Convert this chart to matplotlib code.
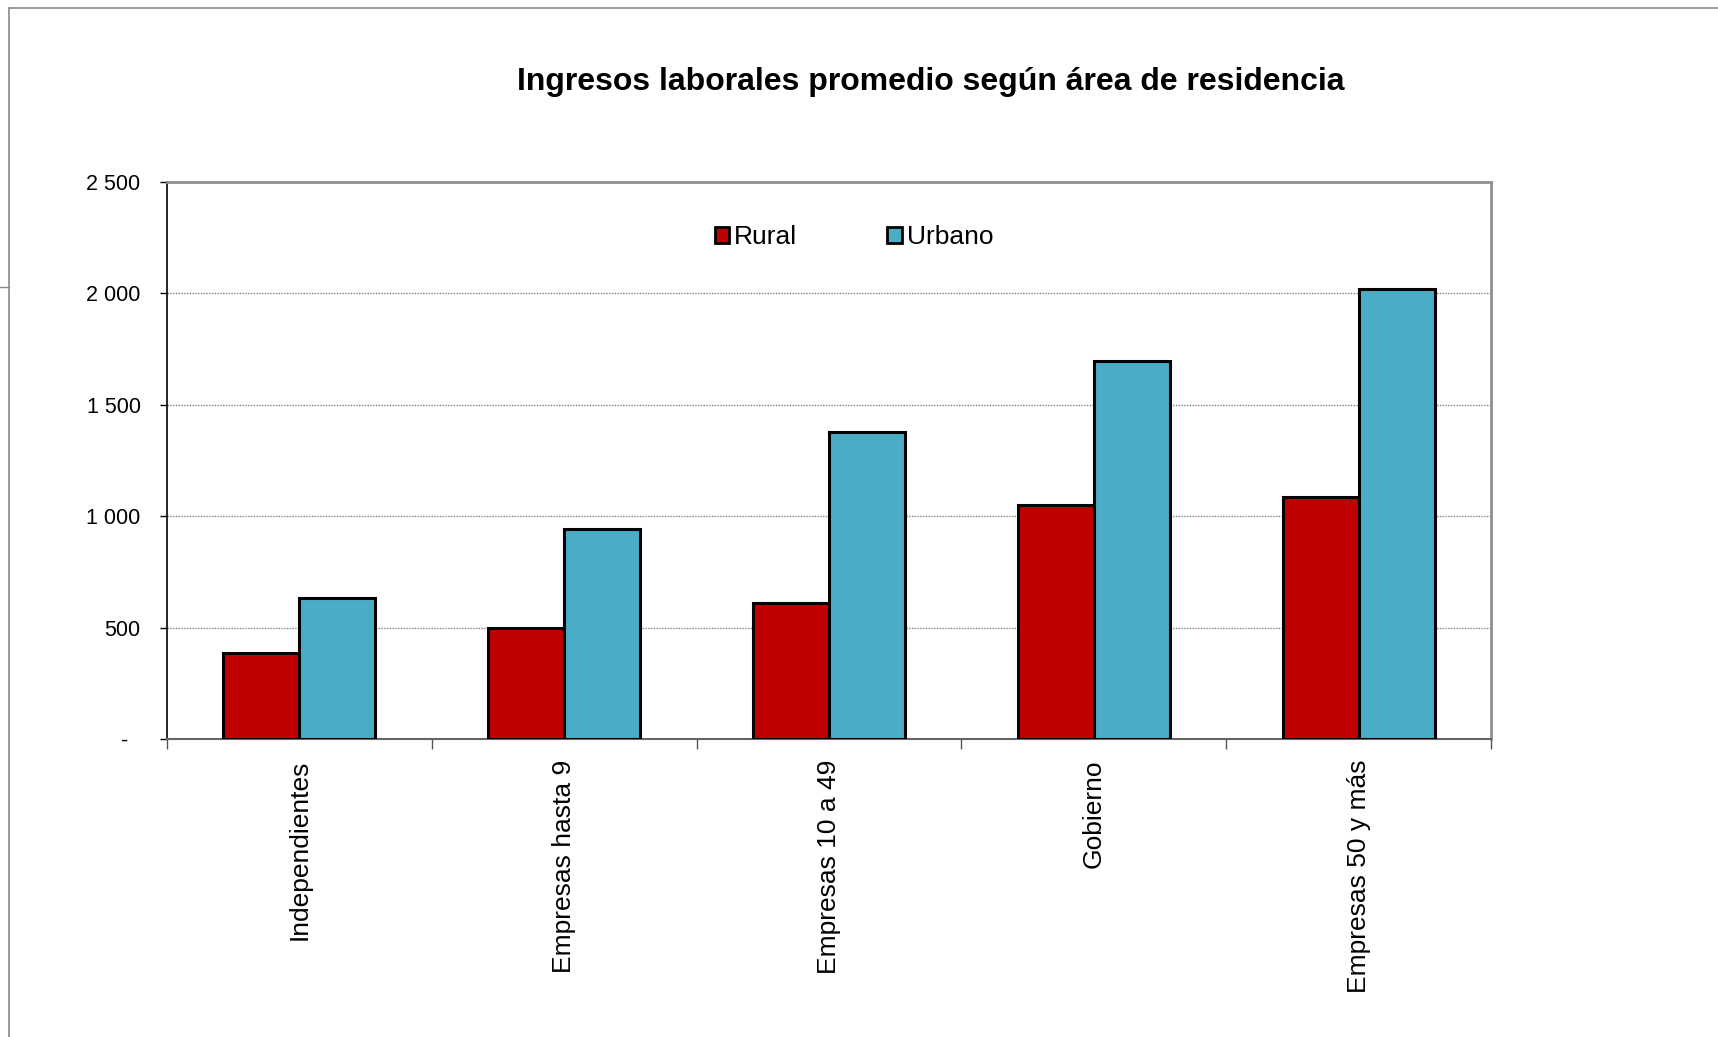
import matplotlib
matplotlib.use("Agg")
import matplotlib.pyplot as plt
from matplotlib.patches import Patch
from matplotlib.lines import Line2D
import numpy as np

plt.rcParams['font.family'] = ['Liberation Sans', 'DejaVu Sans']

categories = ["Independientes", "Empresas hasta 9", "Empresas 10 a 49", "Gobierno", "Empresas 50 y más"]
rural = [386, 498, 609, 1049, 1085]
urbano = [631, 944, 1378, 1695, 2018]
series_names = ["Rural", "Urbano"]
yticks = [0, 500, 1000, 1500, 2000, 2500]
ytick_labels = ["-  ", "500", "1 000", "1 500", "2 000", "2 500"]
title = "Ingresos laborales promedio según área de residencia"

c_rural = "#C00000"
c_urb = "#4BACC6"

W, H = 1718, 1037
fig = plt.figure(figsize=(W / 100, H / 100), dpi=100)
ax = fig.add_axes([167 / W, 1 - 739 / H, (1491 - 167) / W, (739 - 182) / H])

x = np.arange(len(categories))
bw = 0.287
ax.bar(x - bw / 2, rural, bw, color=c_rural, edgecolor="black", linewidth=2.2, zorder=3, label=series_names[0])
ax.bar(x + bw / 2, urbano, bw, color=c_urb, edgecolor="black", linewidth=2.2, zorder=3, label=series_names[1])

ax.set_xlim(-0.5, len(categories) - 0.5)
ax.set_ylim(0, 2500)

ax.set_yticks(yticks)
ax.set_yticklabels(ytick_labels, fontsize=15.5)
ax.tick_params(axis="y", direction="out", length=5, width=1, pad=14, color="black")

ax.set_xticks(np.arange(len(categories) + 1) - 0.5)
ax.set_xticklabels([])
ax.tick_params(axis="x", which="major", direction="out", length=7, width=1, color="#555555")
ax.set_xticks(x, minor=True)
ax.set_xticklabels(categories, minor=True, rotation=90, fontsize=19)
ax.tick_params(axis="x", which="minor", length=0, pad=15)

for v in yticks[1:-1]:
    ax.axhline(v, color="#808080", linewidth=1.0, linestyle=(0, (1, 1)), zorder=1)

ax.spines["left"].set_color("black")
ax.spines["left"].set_linewidth(1.2)
ax.spines["bottom"].set_color("#666666")
ax.spines["bottom"].set_linewidth(1.5)
ax.spines["top"].set_color("#909090")
ax.spines["top"].set_linewidth(2)
ax.spines["right"].set_color("#909090")
ax.spines["right"].set_linewidth(2)

handles = [Patch(facecolor=c_rural, edgecolor="black", linewidth=2),
           Patch(facecolor=c_urb, edgecolor="black", linewidth=2)]
fig.legend(handles, series_names, loc="center", bbox_to_anchor=(854 / W, 1 - 237 / H),
           ncol=2, frameon=False, fontsize=19, handlelength=0.55, handleheight=0.55,
           handletextpad=0.2, columnspacing=3.4)

fig.text(931 / W, 1 - 82 / H, title, ha="center", va="center", fontsize=23, fontweight="bold")

# outer chart frame (left and top visible)
fig.add_artist(Line2D([9 / W, 9 / W], [0, 1 - 8 / H], transform=fig.transFigure, color="#8a8a8a", linewidth=1.2))
fig.add_artist(Line2D([9 / W, 1], [1 - 8 / H, 1 - 8 / H], transform=fig.transFigure, color="#8a8a8a", linewidth=1.2))
fig.add_artist(Line2D([0, 9 / W], [1 - 287 / H, 1 - 287 / H], transform=fig.transFigure, color="#8a8a8a", linewidth=1.0))

fig.savefig("out.png", dpi=100, facecolor="white")
